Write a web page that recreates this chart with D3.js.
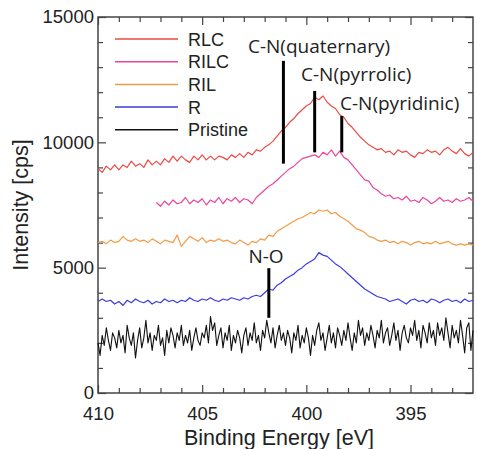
<!DOCTYPE html>
<html>
<head>
<meta charset="utf-8">
<script src="https://cdn.jsdelivr.net/npm/d3@7"></script>
<style>
  body { margin: 0; background: #fff; }
  svg { display: block; }
</style>
</head>
<body>
<div id="chart"></div>
<script>
// binding energy grid (eV), 410 -> 392, step 0.2 for the nitrogen-rich samples
var energy = [
  410.0, 409.8, 409.6, 409.4, 409.2, 409.0, 408.8, 408.6, 408.4, 408.2,
  408.0, 407.8, 407.6, 407.4, 407.2, 407.0, 406.8, 406.6, 406.4, 406.2,
  406.0, 405.8, 405.6, 405.4, 405.2, 405.0, 404.8, 404.6, 404.4, 404.2,
  404.0, 403.8, 403.6, 403.4, 403.2, 403.0, 402.8, 402.6, 402.4, 402.2,
  402.0, 401.8, 401.6, 401.4, 401.2, 401.0, 400.8, 400.6, 400.4, 400.2,
  400.0, 399.8, 399.6, 399.4, 399.2, 399.0, 398.8, 398.6, 398.4, 398.2,
  398.0, 397.8, 397.6, 397.4, 397.2, 397.0, 396.8, 396.6, 396.4, 396.2,
  396.0, 395.8, 395.6, 395.4, 395.2, 395.0, 394.8, 394.6, 394.4, 394.2,
  394.0, 393.8, 393.6, 393.4, 393.2, 393.0, 392.8, 392.6, 392.4, 392.2,
  392.0
];
// pristine was scanned on a 0.1 eV grid, 410 -> 392
var energyFine = d3.range(181).map(i => +(410 - i * 0.1).toFixed(1));

var rlc = [
  8950, 8800, 9050, 8900, 9100, 8900, 9100, 9000, 9250, 9050,
  9150, 9000, 9300, 9100, 9250, 9100, 9350, 9200, 9450, 9250,
  9450, 9300, 9200, 9450, 9300, 9500, 9300, 9450, 9300, 9450,
  9400, 9300, 9500, 9400, 9550, 9400, 9600, 9500, 9700, 9650,
  9800, 9900, 10050, 10250, 10450, 10600, 10800, 10950, 11150, 11300,
  11450, 11550, 11800, 11700, 11850, 11600, 11450, 11350, 11100, 11000,
  10750, 10600, 10400, 10200, 10050, 9900, 9800, 9700, 9750, 9600,
  9650, 9500, 9700, 9600, 9650, 9500, 9400, 9600, 9550, 9700,
  9600, 9650, 9500, 9700, 9800, 9650, 9550, 9750, 9550, 9450,
  9600
];

var rilc = [
  null, null, null, null, null, null, null, null, null, null,
  null, null, null, null, 7600, 7450, 7650, 7500, 7700, 7550,
  7600, 7800, 7550, 7700, 7600, 7750, 7500, 7700, 7600, 7800,
  7550, 7750, 7650, 7800, 7600, 7750, 7700, 7550, 7800, 7950,
  8100, 8250, 8350, 8500, 8650, 8800, 8950, 9050, 9200, 9350,
  9400, 9450, 9500, 9400, 9600, 9500, 9700, 9450, 9650, 9400,
  9300, 9100, 8900, 8700, 8500, 8450, 8200, 8100, 7950, 7850,
  7900, 7750, 7800, 7700, 7850, 7650, 7700, 7600, 7800, 7700,
  7550, 7650, 7800, 7650, 7700, 7600, 7750, 7650, 7700, 7800,
  7650
];

var ril = [
  6000, 6050, 5950, 6100, 6000, 6050, 6250, 6100, 6050, 6150,
  6050, 6100, 6000, 6150, 6050, 5950, 6100, 6050, 6000, 6300,
  5850, 6050, 6250, 6150, 6050, 6200, 6000, 6100, 6050, 6150,
  6050, 6100, 6000, 5950, 6100, 6000, 5900, 6050, 6000, 6150,
  6100, 6300, 6250, 6450, 6550, 6650, 6750, 6850, 6950, 7000,
  7100, 7200, 7150, 7300, 7250, 7300, 7150, 7200, 7050, 6950,
  6850, 6700, 6550, 6500, 6400, 6250, 6200, 6100, 6050, 6100,
  6000, 6050, 5950, 6050, 6000, 5900, 6000, 6050, 5950, 6000,
  5950, 6050, 5950, 6000, 6050, 5950, 5900, 5950, 5900, 5950,
  5900
];

var r = [
  3650, 3750, 3650, 3700, 3550, 3650, 3500, 3700, 3600, 3750,
  3650, 3600, 3700, 3550, 3650, 3600, 3750, 3650, 3700, 3600,
  3700, 3650, 3800, 3700, 3650, 3750, 3700, 3800, 3700, 3650,
  3750, 3700, 3800, 3750, 3700, 3800, 3750, 3850, 3900, 3850,
  4000, 4150, 4100, 4300, 4400, 4550, 4650, 4750, 4900, 5000,
  5150, 5250, 5350, 5600, 5500, 5450, 5300, 5150, 5050, 4900,
  4750, 4600, 4450, 4300, 4150, 4050, 3950, 3850, 3800, 3750,
  3650, 3700, 3750, 3650, 3550, 3700, 3750, 3650, 3700, 3600,
  3750, 3700, 3600, 3700, 3750, 3650, 3700, 3600, 3750, 3650,
  3700
];

var pristine = [
  2000, 1500, 2300, 1900, 2600, 2100, 1700, 2400, 2200, 1800,
  2500, 2000, 2300, 1600, 2700, 2200, 1900, 2400, 1400, 2100,
  2600, 1800, 2200, 2900, 2000, 2400, 1700, 2300, 2100, 2700,
  1900, 2200, 1500, 2500, 2000, 2600, 2300, 1800, 2400, 2100,
  2700, 1900, 2300, 2000, 2500, 1700, 2200, 2600, 2100, 1900,
  2400, 2200, 2700, 2000, 3050, 2500, 2800, 1900, 2300, 2600,
  1800, 2400, 2100, 2700, 1700, 2300, 2000, 2500, 2200, 1600,
  2300, 2600, 1900, 2400, 2100, 2800, 2000, 2300, 1700, 2500,
  2200, 2900, 2400, 2000, 2600, 1800, 2300, 2700, 2100, 2400,
  1900, 2500, 2200, 1600, 2400, 2100, 2700, 1800, 2300, 2000,
  2600, 2200, 1500, 2300, 1900, 2500, 2800, 2100, 2400, 1700,
  2200, 2700, 2000, 2400, 1800, 2600, 2300, 1900, 2500, 2100,
  2800, 2200, 1700, 2400, 2000, 2900, 2300, 2600, 1900, 2400,
  2100, 2700, 2300, 1800, 2500, 2200, 2900, 2000, 2400, 2600,
  1900, 2300, 2800, 2100, 2500, 1700, 2400, 2700, 2200, 2000,
  2600, 2300, 2900, 2100, 2500, 1800, 2700, 2400, 2000, 2800,
  2200, 2500, 1900, 2800, 2300, 2600, 2100, 3000, 2400, 1800,
  2700, 2200, 2500, 2000, 2900, 2300, 1600, 2600, 2800, 1700,
  2500
];

var seriesNames = ["RLC", "RILC", "RIL", "R", "Pristine"];
var seriesValues = [rlc, rilc, ril, r, pristine];
var seriesEnergy = [energy, energy, energy, energy, energyFine];
var seriesColors = ["#ec4a44", "#e8479c", "#f39a45", "#3b3be0", "#111111"];

var xTicks = [410, 405, 400, 395];
var yTicks = [0, 5000, 10000, 15000];

// peak assignment markers: label, energy, line from/to intensity
var markerLabels = ["C-N(quaternary)", "C-N(pyrrolic)", "C-N(pyridinic)", "N-O"];
var markerEnergy = [401.1, 399.6, 398.3, 401.8];
var markerLow = [9150, 9600, 9600, 3000];
var markerHigh = [13250, 12050, 11050, 4980];

var svgWidth = 477;
var svgHeight = 449;
var margin = { top: 17, right: 4, bottom: 56, left: 98 };
var width = svgWidth - margin.left - margin.right;
var height = svgHeight - margin.top - margin.bottom;

var svg = d3.select("#chart")
    .append("svg")
    .attr("width", svgWidth)
    .attr("height", svgHeight);

var chartGroup = svg.append("g")
    .attr("transform", `translate(${margin.left}, ${margin.top})`);

var xScale = d3.scaleLinear().domain([410, 392]).range([0, width]);
var yScale = d3.scaleLinear().domain([0, 15000]).range([height, 0]);

var axisColor = "#444";
var tickFont = "Liberation Sans, Arial, sans-serif";

// minor ticks (inward)
var xMinor = d3.range(409, 392, -1).filter(d => d % 5 !== 0);
var yMinor = d3.range(1000, 15000, 1000).filter(d => d % 5000 !== 0);

function drawAxis(axis, transform) {
  var g = chartGroup.append("g").attr("transform", transform).call(axis);
  g.select(".domain").remove();
  g.selectAll("line").attr("stroke", axisColor).attr("stroke-width", 1.2);
  return g;
}

// bottom
var gx = drawAxis(d3.axisBottom(xScale).tickValues(xTicks).tickSize(-8).tickPadding(14).tickFormat(d3.format("d")),
  `translate(0, ${height})`);
gx.selectAll("text").attr("font-family", tickFont).attr("font-size", 18.5).attr("fill", "#222");
drawAxis(d3.axisBottom(xScale).tickValues(xMinor).tickSize(-5).tickFormat(""), `translate(0, ${height})`);
// top
drawAxis(d3.axisTop(xScale).tickValues(xTicks).tickSize(-8).tickFormat(""), "translate(0,0)");
drawAxis(d3.axisTop(xScale).tickValues(xMinor).tickSize(-5).tickFormat(""), "translate(0,0)");
// left
var gy = drawAxis(d3.axisLeft(yScale).tickValues(yTicks).tickSize(-8).tickPadding(4).tickFormat(d3.format("d")),
  "translate(0,0)");
gy.selectAll("text").attr("font-family", tickFont).attr("font-size", 18.5).attr("fill", "#222");
drawAxis(d3.axisLeft(yScale).tickValues(yMinor).tickSize(-5).tickFormat(""), "translate(0,0)");
// right
drawAxis(d3.axisRight(yScale).tickValues(yTicks).tickSize(-8).tickFormat(""), `translate(${width},0)`);
drawAxis(d3.axisRight(yScale).tickValues(yMinor).tickSize(-5).tickFormat(""), `translate(${width},0)`);

// frame
chartGroup.append("rect")
    .attr("width", width)
    .attr("height", height)
    .attr("fill", "none")
    .attr("stroke", axisColor)
    .attr("stroke-width", 1.5);

// spectra
seriesValues.forEach(function (vals, i) {
  var xs = seriesEnergy[i];
  var line = d3.line()
      .defined(d => d !== null)
      .x((d, j) => xScale(xs[j]))
      .y(d => yScale(d));
  chartGroup.append("path")
      .datum(vals)
      .attr("fill", "none")
      .attr("stroke", seriesColors[i])
      .attr("stroke-width", i === 4 ? 1.1 : 1.2)
      .attr("stroke-linejoin", "round")
      .attr("d", line);
});

// markers
var annFont = "Open Sans, Noto Sans, sans-serif";
var annText = [
  { x: 319, y: 53, anchor: "middle" },
  { x: 301, y: 81, anchor: "start" },
  { x: 340, y: 110, anchor: "start" },
  { x: 266, y: 263, anchor: "middle" }
];
markerLabels.forEach(function (lab, i) {
  chartGroup.append("line")
      .attr("x1", xScale(markerEnergy[i]))
      .attr("x2", xScale(markerEnergy[i]))
      .attr("y1", yScale(markerLow[i]))
      .attr("y2", yScale(markerHigh[i]))
      .attr("stroke", "#000")
      .attr("stroke-width", 3);
  svg.append("text")
      .attr("x", annText[i].x)
      .attr("y", annText[i].y)
      .attr("text-anchor", annText[i].anchor)
      .attr("font-family", annFont)
      .attr("font-size", 19)
      .attr("fill", "#222")
      .text(lab);
});

// legend
var legend = svg.append("g").attr("transform", "translate(115, 39)");
seriesNames.forEach(function (name, i) {
  var row = legend.append("g").attr("transform", `translate(0, ${i * 22.7})`);
  row.append("line")
      .attr("x1", 0).attr("x2", 63)
      .attr("stroke", seriesColors[i])
      .attr("stroke-width", 1.5);
  row.append("text")
      .attr("x", 73)
      .attr("y", 6.5)
      .attr("font-family", tickFont)
      .attr("font-size", 18)
      .attr("fill", "#222")
      .text(name);
});

// axis titles
svg.append("text")
    .attr("transform", `translate(28, ${margin.top + height / 2}) rotate(-90)`)
    .attr("text-anchor", "middle")
    .attr("font-family", tickFont)
    .attr("font-size", 21.5)
    .attr("fill", "#222")
    .text("Intensity [cps]");

svg.append("text")
    .attr("x", 279)
    .attr("y", 445)
    .attr("text-anchor", "middle")
    .attr("font-family", tickFont)
    .attr("font-size", 21.5)
    .attr("fill", "#222")
    .text("Binding Energy [eV]");
</script>
</body>
</html>
